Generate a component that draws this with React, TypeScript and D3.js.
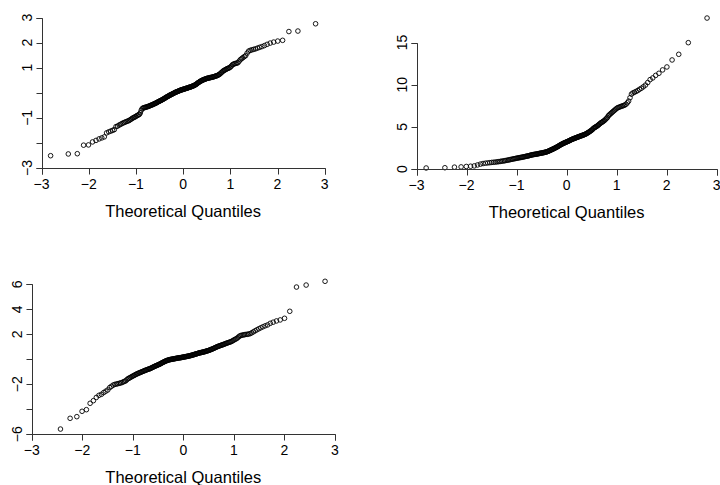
import React from "react";
import * as d3 from "d3";

// Sorted sample values, n = 200 each
const sampleA = [
  -2.51, -2.44, -2.43, -2.09, -2.08, -1.96, -1.90, -1.84, -1.80, -1.76,
  -1.60, -1.56, -1.53, -1.50, -1.47, -1.35, -1.33, -1.29, -1.26, -1.23,
  -1.20, -1.18, -1.16, -1.14, -1.12, -1.10, -1.07, -1.04, -1.01, -0.99,
  -0.97, -0.95, -0.92, -0.90, -0.88, -0.86, -0.80, -0.70, -0.64, -0.61,
  -0.60, -0.59, -0.58, -0.57, -0.56, -0.55, -0.54, -0.53, -0.51, -0.50,
  -0.49, -0.48, -0.46, -0.45, -0.44, -0.42, -0.41, -0.40, -0.38, -0.36,
  -0.35, -0.34, -0.32, -0.31, -0.30, -0.28, -0.27, -0.25, -0.24, -0.22,
  -0.21, -0.19, -0.17, -0.16, -0.15, -0.13, -0.12, -0.10, -0.09, -0.08,
  -0.07, -0.05, -0.04, -0.03, -0.02, 0.00, 0.01, 0.02, 0.03, 0.04,
  0.05, 0.06, 0.07, 0.08, 0.09, 0.10, 0.11, 0.12, 0.12, 0.13,
  0.14, 0.15, 0.15, 0.16, 0.17, 0.18, 0.18, 0.19, 0.20, 0.21,
  0.22, 0.22, 0.23, 0.24, 0.25, 0.26, 0.27, 0.28, 0.29, 0.30,
  0.32, 0.33, 0.35, 0.37, 0.39, 0.41, 0.42, 0.44, 0.46, 0.47,
  0.48, 0.50, 0.51, 0.52, 0.53, 0.54, 0.55, 0.56, 0.57, 0.58,
  0.58, 0.59, 0.60, 0.60, 0.61, 0.62, 0.62, 0.63, 0.64, 0.65,
  0.66, 0.67, 0.68, 0.69, 0.71, 0.73, 0.75, 0.78, 0.81, 0.84,
  0.87, 0.89, 0.91, 0.93, 0.95, 0.97, 0.98, 1.00, 1.03, 1.07,
  1.12, 1.14, 1.16, 1.17, 1.18, 1.20, 1.26, 1.32, 1.36, 1.40,
  1.44, 1.48, 1.58, 1.66, 1.69, 1.71, 1.73, 1.75, 1.78, 1.81,
  1.84, 1.88, 1.93, 1.98, 2.02, 2.06, 2.09, 2.44, 2.46, 2.75,
];

const sampleB = [
  0.12, 0.15, 0.22, 0.25, 0.30, 0.33, 0.37, 0.48, 0.58, 0.65,
  0.69, 0.72, 0.75, 0.78, 0.80, 0.82, 0.85, 0.87, 0.90, 0.93,
  0.95, 0.98, 1.01, 1.04, 1.07, 1.10, 1.13, 1.16, 1.19, 1.22,
  1.24, 1.27, 1.29, 1.32, 1.34, 1.36, 1.38, 1.40, 1.43, 1.45,
  1.47, 1.50, 1.52, 1.54, 1.56, 1.59, 1.62, 1.64, 1.67, 1.69,
  1.71, 1.72, 1.74, 1.75, 1.77, 1.78, 1.80, 1.82, 1.84, 1.86,
  1.87, 1.89, 1.91, 1.92, 1.94, 1.96, 1.98, 2.00, 2.02, 2.05,
  2.08, 2.11, 2.15, 2.18, 2.22, 2.26, 2.29, 2.33, 2.37, 2.40,
  2.44, 2.48, 2.52, 2.56, 2.60, 2.64, 2.68, 2.73, 2.78, 2.83,
  2.87, 2.91, 2.95, 2.99, 3.03, 3.06, 3.10, 3.13, 3.16, 3.20,
  3.23, 3.26, 3.29, 3.33, 3.36, 3.40, 3.44, 3.48, 3.51, 3.54,
  3.58, 3.61, 3.63, 3.66, 3.69, 3.72, 3.75, 3.78, 3.81, 3.84,
  3.87, 3.90, 3.93, 3.95, 3.98, 4.01, 4.04, 4.07, 4.10, 4.14,
  4.18, 4.23, 4.28, 4.33, 4.38, 4.44, 4.50, 4.56, 4.62, 4.68,
  4.80, 4.85, 4.92, 4.97, 5.02, 5.08, 5.14, 5.22, 5.30, 5.38,
  5.46, 5.52, 5.58, 5.64, 5.72, 5.80, 5.90, 6.00, 6.10, 6.30,
  6.40, 6.50, 6.60, 6.70, 6.80, 6.90, 7.00, 7.10, 7.20, 7.28,
  7.32, 7.38, 7.43, 7.48, 7.52, 7.58, 7.68, 7.85, 8.05, 8.45,
  8.88, 9.02, 9.10, 9.20, 9.30, 9.45, 9.58, 9.75, 9.95, 10.25,
  10.60, 10.80, 11.10, 11.35, 11.75, 12.10, 12.93, 13.60, 14.98, 17.90,
];

const sampleC = [
  -7.80, -5.58, -4.72, -4.59, -4.16, -4.03, -3.52, -3.31, -3.05, -2.88,
  -2.80, -2.66, -2.55, -2.45, -2.26, -2.16, -2.06, -2.01, -1.98, -1.95,
  -1.92, -1.89, -1.86, -1.80, -1.76, -1.72, -1.62, -1.54, -1.50, -1.45,
  -1.40, -1.35, -1.31, -1.27, -1.22, -1.18, -1.15, -1.11, -1.08, -1.05,
  -1.02, -0.99, -0.96, -0.93, -0.90, -0.88, -0.85, -0.82, -0.80, -0.78,
  -0.76, -0.73, -0.70, -0.67, -0.64, -0.61, -0.58, -0.55, -0.53, -0.50,
  -0.48, -0.45, -0.42, -0.40, -0.38, -0.34, -0.31, -0.28, -0.25, -0.22,
  -0.20, -0.17, -0.14, -0.12, -0.10, -0.08, -0.06, -0.05, -0.03, -0.02,
  -0.01, 0.00, 0.01, 0.02, 0.03, 0.04, 0.05, 0.06, 0.07, 0.08,
  0.09, 0.10, 0.11, 0.12, 0.12, 0.13, 0.14, 0.15, 0.16, 0.17,
  0.18, 0.19, 0.20, 0.21, 0.22, 0.23, 0.24, 0.25, 0.26, 0.27,
  0.29, 0.30, 0.31, 0.33, 0.34, 0.36, 0.37, 0.39, 0.41, 0.42,
  0.44, 0.45, 0.47, 0.49, 0.50, 0.52, 0.53, 0.54, 0.55, 0.57,
  0.58, 0.59, 0.61, 0.62, 0.64, 0.66, 0.68, 0.69, 0.71, 0.73,
  0.76, 0.78, 0.80, 0.83, 0.85, 0.88, 0.91, 0.94, 0.97, 1.00,
  1.02, 1.05, 1.07, 1.10, 1.12, 1.14, 1.17, 1.19, 1.22, 1.25,
  1.28, 1.30, 1.33, 1.36, 1.38, 1.41, 1.45, 1.50, 1.55, 1.60,
  1.64, 1.70, 1.78, 1.86, 1.90, 1.93, 1.95, 1.97, 1.99, 2.00,
  2.02, 2.06, 2.12, 2.20, 2.28, 2.36, 2.44, 2.52, 2.60, 2.68,
  2.75, 2.88, 2.97, 3.07, 3.15, 3.28, 3.84, 5.78, 5.94, 6.24,
];

const xTicks = [-3, -2, -1, 0, 1, 2, 3];
const xTickLabels = ["−3", "−2", "−1", "0", "1", "2", "3"];
const yTicksA = [-3, -2, -1, 0, 1, 2, 3];
const yTickLabelsA = ["−3", "", "−1", "", "1", "2", "3"];
const yTicksB = [0, 5, 10, 15];
const yTickLabelsB = ["0", "5", "10", "15"];
const yTicksC = [-6, -4, -2, 0, 2, 4, 6];
const yTickLabelsC = ["−6", "", "−2", "", "2", "4", "6"];
const xTitle = "Theoretical Quantiles";

// inverse standard normal CDF (Acklam)
function qnorm(p: number): number {
  const a = [-3.969683028665376e1, 2.209460984245205e2, -2.759285104469687e2, 1.38357751867269e2, -3.066479806614716e1, 2.506628277459239];
  const b = [-5.447609879822406e1, 1.615858368580409e2, -1.556989798598866e2, 6.680131188771972e1, -1.328068155288572e1];
  const c = [-7.784894002430293e-3, -3.223964580411365e-1, -2.400758277161838, -2.549732539343734, 4.374664141464968, 2.938163982698783];
  const d = [7.784695709041462e-3, 3.224671290700398e-1, 2.445134137142996, 3.754408661907416];
  const pl = 0.02425;
  if (p < pl) {
    const q = Math.sqrt(-2 * Math.log(p));
    return (((((c[0] * q + c[1]) * q + c[2]) * q + c[3]) * q + c[4]) * q + c[5]) / ((((d[0] * q + d[1]) * q + d[2]) * q + d[3]) * q + 1);
  }
  if (p > 1 - pl) {
    const q = Math.sqrt(-2 * Math.log(1 - p));
    return -(((((c[0] * q + c[1]) * q + c[2]) * q + c[3]) * q + c[4]) * q + c[5]) / ((((d[0] * q + d[1]) * q + d[2]) * q + d[3]) * q + 1);
  }
  const q = p - 0.5;
  const r = q * q;
  return ((((((a[0] * r + a[1]) * r + a[2]) * r + a[3]) * r + a[4]) * r + a[5]) * q) / (((((b[0] * r + b[1]) * r + b[2]) * r + b[3]) * r + b[4]) * r + 1);
}

const FONT = "'Liberation Sans', Arial, Helvetica, sans-serif";
const AXIS = "#333";

type PanelProps = {
  id: string;
  data: number[];
  xRange: [number, number];
  yDomain: [number, number];
  yRange: [number, number];
  yTicks: number[];
  yLabels: string[];
};

function Panel({ id, data, xRange, yDomain, yRange, yTicks, yLabels }: PanelProps) {
  const n = data.length;
  const theo = data.map((_, i) => qnorm((i + 0.5) / n));
  const x = d3.scaleLinear().domain([-3, 3]).range(xRange);
  const y = d3.scaleLinear().domain(yDomain).range(yRange);
  const ax = Math.round(x(-3)) + 0.5;
  const ay = Math.round(y(yDomain[0])) + 0.5;
  const x0 = Math.round(x(-3)) + 0.5;
  const x1 = Math.round(x(3)) + 0.5;
  const yTop = Math.round(y(yDomain[1])) + 0.5;
  const T = 6;
  return (
    <g>
      <defs>
        <clipPath id={id}>
          <rect x={0} y={ay - 200} width={720} height={204} />
        </clipPath>
      </defs>
      <g clipPath={`url(#${id})`}>
        {data.map((v, i) => (
          <circle key={i} cx={x(theo[i])} cy={y(v)} r={2.3} fill="none" stroke="#000" strokeWidth={0.9} />
        ))}
      </g>
      {/* x axis */}
      <path d={`M${x0},${ay + T}V${ay}H${x1}V${ay + T}`} fill="none" stroke={AXIS} />
      {xTicks.map((t, i) => (
        <g key={"xt" + i}>
          <line x1={Math.round(x(t)) + 0.5} x2={Math.round(x(t)) + 0.5} y1={ay} y2={ay + T} stroke={AXIS} />
          <text x={x(t)} y={ay + 20} textAnchor="middle" fontSize={14} fontFamily={FONT} fill="#000">
            {xTickLabels[i]}
          </text>
        </g>
      ))}
      {/* y axis */}
      <path d={`M${ax - T},${yTop}H${ax}V${ay}H${ax - T}`} fill="none" stroke={AXIS} />
      {yTicks.map((t, i) => (
        <g key={"yt" + i}>
          <line x1={ax - T} x2={ax} y1={Math.round(y(t)) + 0.5} y2={Math.round(y(t)) + 0.5} stroke={AXIS} />
          {yLabels[i] ? (
            <text transform={`translate(${ax - 11},${y(t)}) rotate(-90)`} textAnchor="middle" fontSize={14} fontFamily={FONT} fill="#000">
              {yLabels[i]}
            </text>
          ) : null}
        </g>
      ))}
      <text x={x(0)} y={ay + 48} textAnchor="middle" fontSize={16.5} fontFamily={FONT} fill="#000">
        {xTitle}
      </text>
    </g>
  );
}

export default function App() {
  return (
    <svg width={720} height={485} style={{ position: "absolute", left: 0, top: 0, background: "#fff" }}>
      <rect width={720} height={485} fill="#fff" />
      <Panel id="clipA" data={sampleA} xRange={[41.5, 324.7]} yDomain={[-3, 3]} yRange={[168, 17.5]} yTicks={yTicksA} yLabels={yTickLabelsA} />
      <Panel id="clipB" data={sampleB} xRange={[416.5, 716.7]} yDomain={[0, 15]} yRange={[169, 42.5]} yTicks={yTicksB} yLabels={yTickLabelsB} />
      <Panel id="clipC" data={sampleC} xRange={[31.8, 334.8]} yDomain={[-6, 6]} yRange={[434.3, 284.3]} yTicks={yTicksC} yLabels={yTickLabelsC} />
    </svg>
  );
}
